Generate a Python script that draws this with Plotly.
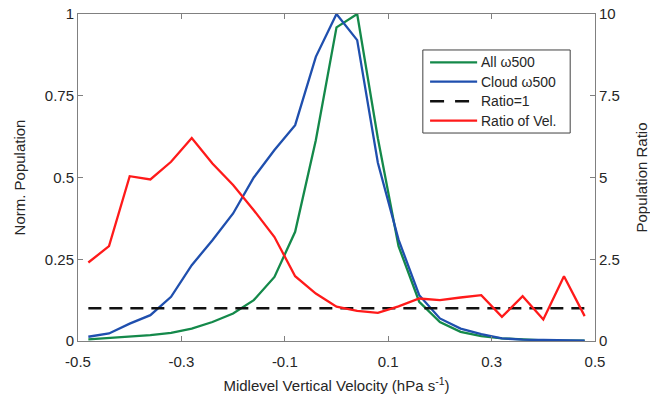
import plotly.graph_objects as go

velocity = [-0.48, -0.44, -0.40, -0.36, -0.32, -0.28, -0.24, -0.20, -0.16, -0.12,
            -0.08, -0.04, 0.00, 0.04, 0.08, 0.12, 0.16, 0.20, 0.24, 0.28,
            0.32, 0.36, 0.40, 0.44, 0.48]

all_w500 = [0.005, 0.009, 0.013, 0.018, 0.025, 0.038, 0.058, 0.084, 0.125, 0.196,
            0.334, 0.614, 0.959, 1.0, 0.62, 0.29, 0.12, 0.058, 0.028, 0.015,
            0.008, 0.004, 0.002, 0.001, 0.001]

cloud_w500 = [0.013, 0.023, 0.053, 0.079, 0.135, 0.232, 0.308, 0.39, 0.50, 0.584,
              0.66, 0.869, 1.0, 0.92, 0.545, 0.31, 0.14, 0.069, 0.038, 0.021,
              0.008, 0.004, 0.003, 0.002, 0.001]

ratio_vel = [2.40, 2.90, 5.04, 4.94, 5.48, 6.21, 5.43, 4.77, 4.00, 3.18,
             1.98, 1.45, 1.05, 0.92, 0.86, 1.06, 1.30, 1.25, 1.33, 1.40,
             0.74, 1.37, 0.66, 1.98, 0.76]

ratio_one_x = [-0.48, 0.48]
ratio_one_y = [1, 1]

series_names = ["All \u03c9500", "Cloud \u03c9500", "Ratio=1", "Ratio of Vel."]
series_colors = ["#14894a", "#1f4fae", "#111111", "#ff1a1a"]
series_dash = ["solid", "solid", "13px,8px", "solid"]

left_ticks = [0, 0.25, 0.5, 0.75, 1]
left_ticklabels = ["0", "0.25", "0.5", "0.75", "1"]
right_ticks = [0, 2.5, 5, 7.5, 10]
right_ticklabels = ["0", "2.5", "5", "7.5", "10"]
x_ticks = [-0.5, -0.3, -0.1, 0.1, 0.3, 0.5]
x_ticklabels = ["-0.5", "-0.3", "-0.1", "0.1", "0.3", "0.5"]

FONT = "Liberation Sans, Arial, sans-serif"
TXT = "#262626"

fig = go.Figure()
fig.add_trace(go.Scatter(x=velocity, y=all_w500, mode="lines", name=series_names[0],
                         line=dict(color=series_colors[0], width=2.3), showlegend=False))
fig.add_trace(go.Scatter(x=velocity, y=cloud_w500, mode="lines", name=series_names[1],
                         line=dict(color=series_colors[1], width=2.3), showlegend=False))
fig.add_trace(go.Scatter(x=ratio_one_x, y=ratio_one_y, mode="lines", name=series_names[2],
                         line=dict(color=series_colors[2], width=2.6, dash=series_dash[2]),
                         yaxis="y2", showlegend=False))
fig.add_trace(go.Scatter(x=velocity, y=ratio_vel, mode="lines", name=series_names[3],
                         line=dict(color=series_colors[3], width=2.3), yaxis="y2", showlegend=False))

# Legend drawn as a boxed key (paper coordinates of the plot area)
shapes = [dict(type="rect", xref="paper", yref="paper", x0=0.667, x1=0.952, y0=0.636, y1=0.890,
               line=dict(color="#404040", width=1), fillcolor="white", layer="above")]
annotations = []
legend_rows = [0.852, 0.793, 0.733, 0.674]
for name, color, dash, yy in zip(series_names, series_colors, series_dash, legend_rows):
    shapes.append(dict(type="line", xref="paper", yref="paper", x0=0.681, x1=0.772, y0=yy, y1=yy,
                       line=dict(color=color, width=2.6 if dash != "solid" else 2.3,
                                 dash="14px,11px" if dash != "solid" else "solid"),
                       layer="above"))
    annotations.append(dict(xref="paper", yref="paper", x=0.776, y=yy, text=name,
                            showarrow=False, xanchor="left", yanchor="middle",
                            font=dict(family=FONT, size=14, color=TXT)))

fig.update_layout(
    width=650, height=400,
    margin=dict(l=78, r=55, t=14, b=59),
    paper_bgcolor="white", plot_bgcolor="white",
    font=dict(family=FONT, size=15, color=TXT),
    showlegend=False,
    shapes=shapes,
    annotations=annotations,
    xaxis=dict(range=[-0.5, 0.5], tickvals=x_ticks, ticktext=x_ticklabels,
               ticks="inside", ticklen=5, tickcolor="#808080", ticklabelstandoff=7,
               showline=True, linecolor="#808080", linewidth=1, mirror="ticks",
               showgrid=False, zeroline=False, automargin=False,
               title=dict(text="Midlevel Vertical Velocity (hPa s<sup>-1</sup>)",
                          font=dict(size=15), standoff=11)),
    yaxis=dict(range=[0, 1], tickvals=left_ticks, ticktext=left_ticklabels,
               ticks="inside", ticklen=5, tickcolor="#808080",
               showline=True, linecolor="#808080", linewidth=1, mirror=True,
               showgrid=False, zeroline=False, automargin=False,
               title=dict(text="Norm. Population", font=dict(size=15), standoff=15)),
    yaxis2=dict(range=[0, 10], tickvals=right_ticks, ticktext=right_ticklabels,
                overlaying="y", side="right",
                ticks="inside", ticklen=5, tickcolor="#808080",
                showline=True, linecolor="#808080", linewidth=1,
                showgrid=False, zeroline=False, automargin=False,
                title=dict(text="Population Ratio", font=dict(size=15), standoff=17)),
)

fig.write_html("out.html")
